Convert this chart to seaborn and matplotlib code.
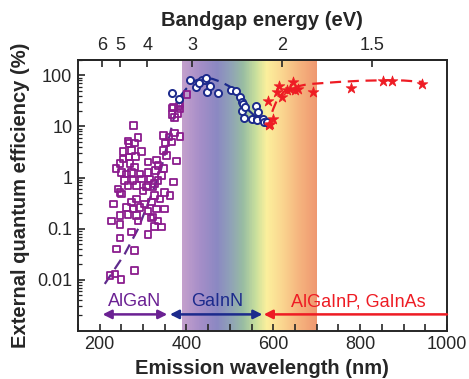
import numpy as np
import matplotlib
matplotlib.use('Agg')
import matplotlib.pyplot as plt
from matplotlib.colors import LinearSegmentedColormap
from matplotlib.ticker import FixedLocator, FixedFormatter, MultipleLocator, LogLocator, NullLocator, NullFormatter
import seaborn as sns

#### DATA

# AlGaN (deep UV) - open squares
algan_wl = [367, 383, 367, 381, 373, 278, 347, 372, 385, 360, 266, 288, 268, 280, 352, 366,
            254, 274, 297, 347, 354, 254, 268, 283, 312, 331, 377, 247, 270, 281, 335, 347,
            251, 262, 274, 293, 312, 329, 343, 258, 277, 297, 316, 335, 370, 266, 285, 312, 327,
            247, 308, 323, 350, 362, 327, 251, 274, 285, 304, 320, 339, 262, 277, 293, 312, 331,
            350, 247, 266, 285, 323, 335, 228, 247, 289, 327, 343, 274, 312, 247, 239, 280, 281,
            224, 235, 249, 401, 385, 370, 385, 238, 243, 232, 300, 318]
algan_eqe = [23, 25, 17, 18, 15, 10.5, 6.6, 7.4, 6.3, 6.2, 5.2, 6.0, 4.6, 4.7, 4.7, 4.9,
             3.2, 3.4, 3.2, 3.4, 2.7, 2.3, 2.5, 2.6, 2.0, 2.2, 2.1, 1.9, 1.9, 1.6, 1.7, 1.5,
             1.26, 1.17, 1.26, 1.17, 1.26, 1.37, 1.1, 0.87, 0.87, 0.93, 0.93, 0.87, 0.81, 0.69, 0.69, 0.69, 0.76,
             0.51, 0.65, 0.65, 0.51, 0.44, 0.44, 0.48, 0.33, 0.38, 0.30, 0.33, 0.38, 0.26, 0.24, 0.26, 0.22, 0.24,
             0.24, 0.18, 0.19, 0.18, 0.17, 0.14, 0.14, 0.12, 0.14, 0.11, 0.107, 0.085, 0.076, 0.065, 0.040, 0.037, 0.015,
             0.012, 0.013, 0.010, 42, 28, 24, 22, 1.5, 0.6, 0.3, 0.55, 0.16]
algan_fit_wl = [212, 258, 289, 316, 340, 360, 375, 398]
algan_fit_eqe = [0.0083, 0.032, 0.1, 0.39, 1.3, 6, 20, 55]

# GaInN (visible) - open circles
gainn_wl = [366, 383, 408, 422, 435, 443, 445, 448, 472, 502, 514, 523, 527, 531, 529,
            535, 533, 550, 560, 562, 565, 563, 576, 579, 585, 430, 455]
gainn_eqe = [45, 35, 80, 60, 80, 80, 89, 47, 44, 52, 50, 37, 30, 28, 20,
             24, 14.5, 14, 25, 14, 19, 13.5, 14, 12, 12, 70, 62]
gainn_fit_wl = [385, 400, 420, 440, 460, 480, 500, 520, 545, 565, 585]
gainn_fit_eqe = [38, 55, 78, 90, 85, 74, 60, 37, 20, 14, 11]

# AlGaInP / GaInAs (red, IR) - stars
red_wl = [590, 592, 600, 588, 608, 614, 619, 631, 638, 646, 650, 657, 692, 780, 852, 873, 942]
red_eqe = [10.5, 11, 14, 31, 47, 63, 37, 51, 53, 74, 51, 55, 47, 57, 77, 77, 67]
red_fit_wl = [585, 592, 600, 610, 625, 645, 680, 750, 800, 860, 900, 945]
red_fit_eqe = [9, 14, 22, 35, 48, 58, 67, 74, 78, 80, 79, 74]

# visible spectrum band
band_wl = [390, 430, 470, 500, 530, 560, 585, 620, 660, 700]
band_colors = ['#c4a0cc', '#a68ec8', '#8b88c2', '#8fa0b8', '#98bca2', '#c8df9c',
               '#fbef9c', '#fad690', '#f5b47e', '#ef9870']

ev_ticks = [6, 5, 4, 3, 2, 1.5]
ev_labels = ['6', '5', '4', '3', '2', '1.5']
eqe_ticks = [0.01, 0.1, 1, 10, 100]
eqe_labels = ['0.01', '0.1', '1', '10', '100']

c_purple = '#8B1C8E'
c_purple_line = '#5E2A8C'
c_purple_arrow = '#6B2193'
c_blue = '#1C2A8C'
c_red = '#EE1C24'

#### PLOT

sns.set_style("ticks")
plt.rcParams['font.family'] = ['Liberation Sans', 'DejaVu Sans']
plt.rcParams['axes.linewidth'] = 1.4

fg = plt.figure(figsize=(4.69, 3.79), dpi=100)
ax = fg.add_axes([0.166, 0.127, 0.787, 0.715])

ymin, ymax = 0.001, 200
xmin, xmax = 150, 1000

# spectrum background
pos = [(w - band_wl[0]) / (band_wl[-1] - band_wl[0]) for w in band_wl]
cmap = LinearSegmentedColormap.from_list('vis', list(zip(pos, band_colors)))
xs = np.linspace(band_wl[0], band_wl[-1], 311)
C = ((xs[:-1] + xs[1:]) / 2 - band_wl[0]) / (band_wl[-1] - band_wl[0])
ax.pcolormesh(xs, [ymin, ymax], C[np.newaxis, :], cmap=cmap, vmin=0, vmax=1,
              shading='flat', zorder=0, rasterized=True)

# fit lines
dash = (0, (5, 3))
sns.lineplot(x=algan_fit_wl, y=algan_fit_eqe, color=c_purple_line, linestyle=dash, lw=1.6, ax=ax, zorder=2)
sns.lineplot(x=gainn_fit_wl, y=gainn_fit_eqe, color=c_blue, linestyle=dash, lw=1.6, ax=ax, zorder=2)
sns.lineplot(x=red_fit_wl, y=red_fit_eqe, color=c_red, linestyle=dash, lw=1.6, ax=ax, zorder=2)

# data points
sns.scatterplot(x=algan_wl, y=algan_eqe, marker='s', s=22, facecolor='none', edgecolor=c_purple,
                linewidth=1.3, ax=ax, zorder=3)
sns.scatterplot(x=gainn_wl, y=gainn_eqe, marker='o', s=26, facecolor='white', edgecolor=c_blue,
                linewidth=1.4, ax=ax, zorder=3)
sns.scatterplot(x=red_wl, y=red_eqe, marker='*', s=65, color=c_red, edgecolor=c_red,
                linewidth=0.5, ax=ax, zorder=4)

# range arrows and labels
y_arrow = 0.0021
y_text = 0.0037
ap = dict(color=c_purple_arrow, lw=1.8, mutation_scale=13, shrinkA=0, shrinkB=0)
ax.annotate('', xy=(356, y_arrow), xytext=(207, y_arrow), arrowprops=dict(arrowstyle='<|-|>', **ap))
ap['color'] = c_blue
ax.annotate('', xy=(575, y_arrow), xytext=(362, y_arrow), arrowprops=dict(arrowstyle='<|-|>', **ap))
ap['color'] = c_red
ax.annotate('', xy=(578, y_arrow), xytext=(1000, y_arrow), arrowprops=dict(arrowstyle='-|>', **ap))

ax.text(281, y_text, 'AlGaN', color=c_purple_arrow, fontsize=13, ha='center', va='center')
ax.text(472, y_text, 'GaInN', color=c_blue, fontsize=13, ha='center', va='center')
ax.text(797, y_text, 'AlGaInP, GaInAs', color=c_red, fontsize=13, ha='center', va='center')

# axes
ax.set_yscale('log')
ax.set_xlim(xmin, xmax)
ax.set_ylim(ymin, ymax)

ax.xaxis.set_major_locator(MultipleLocator(200))
ax.xaxis.set_minor_locator(MultipleLocator(50))
ax.yaxis.set_major_locator(FixedLocator(eqe_ticks))
ax.yaxis.set_major_formatter(FixedFormatter(eqe_labels))
ax.yaxis.set_minor_locator(LogLocator(base=10, subs=np.arange(2, 10)))
ax.yaxis.set_minor_formatter(NullFormatter())

ax.tick_params(axis='both', which='major', direction='in', length=5, width=1.2, labelsize=13, pad=4,
               top=False, right=False)
ax.tick_params(axis='x', which='minor', direction='in', length=5, width=1.2, top=False)
ax.tick_params(axis='y', which='minor', direction='in', length=3, width=0.9, right=False)

ax.set_xlabel('Emission wavelength (nm)', fontsize=14.5, fontweight='bold', labelpad=4)
ax.set_ylabel('External quantum efficiency (%)', fontsize=14.5, fontweight='bold', labelpad=5)


def nm2ev(x):
    x = np.asarray(x, dtype=float)
    with np.errstate(divide='ignore', invalid='ignore'):
        return 1240.0 / x


secax = ax.secondary_xaxis('top', functions=(nm2ev, nm2ev))
secax.xaxis.set_major_locator(FixedLocator(ev_ticks))
secax.xaxis.set_major_formatter(FixedFormatter(ev_labels))
secax.xaxis.set_minor_locator(NullLocator())
secax.tick_params(axis='x', direction='in', length=5, width=1.2, labelsize=13, pad=4)
secax.set_xlabel('Bandgap energy (eV)', fontsize=14.5, fontweight='bold', labelpad=8)

for sp in ax.spines.values():
    sp.set_linewidth(1.4)

plt.savefig('out.png', dpi=100)
